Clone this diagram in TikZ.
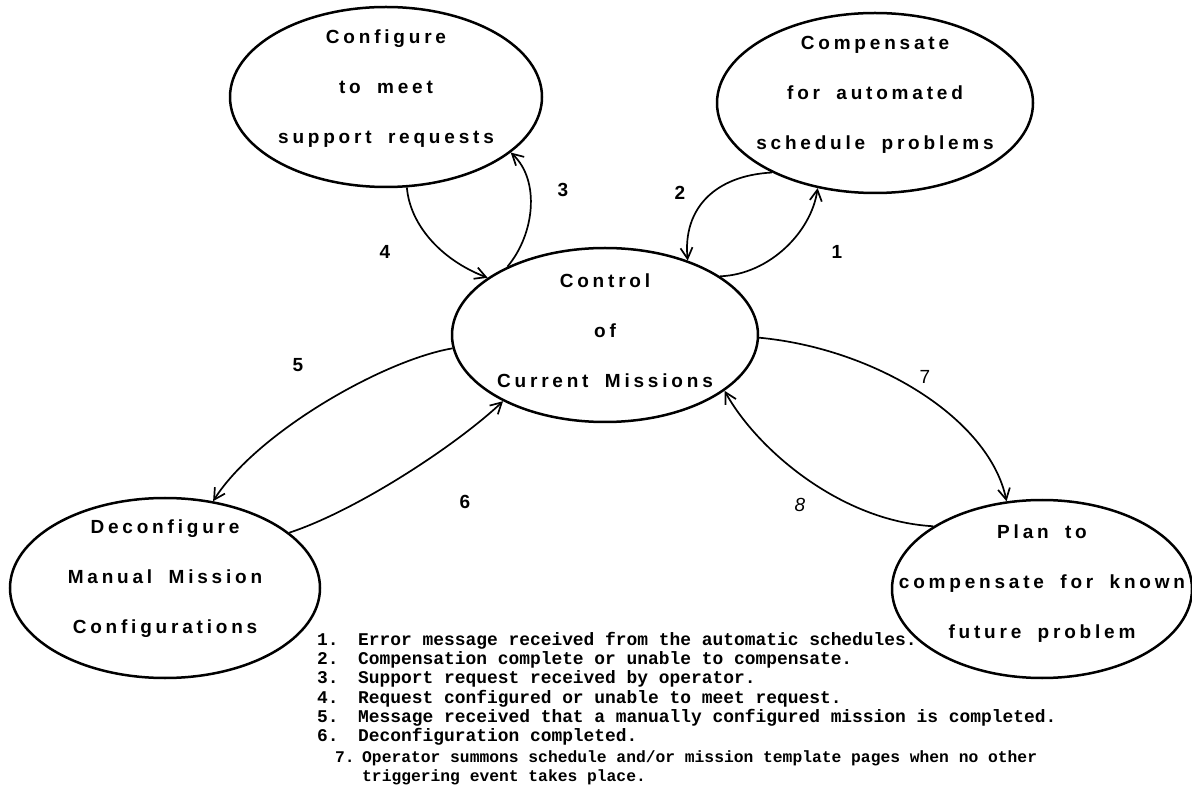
\documentclass[tikz,border=0pt]{standalone}
\usepackage{fontspec}
\setmainfont{Liberation Sans}
\newfontfamily\legfont{Liberation Mono}
\newfontfamily\ellfont[LetterSpace=20,WordSpace=1.8]{Liberation Sans}
\usetikzlibrary{shapes.geometric,arrows.meta}

\begin{document}
\begin{tikzpicture}[x=1pt,y=-1pt,
  ell/.style={draw, ellipse, line width=2.5pt, inner sep=0pt},
  etext/.style={align=center, inner sep=0pt, font=\ellfont\bfseries\fontsize{19}{50}\selectfont},
  conn/.style={line width=1.7pt, -{Straight Barb[length=11pt,width=12pt,line width=1.7pt]}},
  num/.style={inner sep=0pt, font=\bfseries\fontsize{19}{20}\selectfont},
  leg/.style={anchor=base west, inner sep=0pt, font=\legfont\bfseries\fontsize{17.9}{19}\selectfont},
  legs/.style={leg, font=\legfont\bfseries\fontsize{16.3}{19}\selectfont},
]
\useasboundingbox (0,0) rectangle (1192,799);

% ellipses
\node[ell, minimum width=312pt, minimum height=180pt] (conf) at (386,97) {};
\node[etext] (conft) at ([yshift=8pt]conf.center) {Configure\\to meet\\support requests};

\node[ell, minimum width=316pt, minimum height=180pt] (comp) at (875,103) {};
\node[etext] (compt) at ([yshift=8pt]comp.center) {Compensate\\for automated\\schedule problems};

\node[ell, minimum width=306pt, minimum height=174pt] (ctrl) at (605,335) {};
\node[etext] (ctrlt) at ([yshift=4pt]ctrl.center) {Control\\of\\Current Missions};

\node[ell, minimum width=310pt, minimum height=180pt] (dec) at (165,588) {};
\node[etext] (dect) at ([yshift=9pt]dec.center) {Deconfigure\\Manual Mission\\Configurations};

\node[ell, minimum width=300pt, minimum height=178pt] (plan) at (1042,589) {};
\node[etext] (plant) at ([yshift=5pt]plan.center) {Plan to\\compensate for known\\future problem};

% connectors
\draw[conn] (ctrl.145) .. controls +(27,-32) and +(30,28) .. (conf.-24);
\draw[conn] (conf.-77) .. controls +(3,37) and +(-47,-18) .. (ctrl.154);
\draw[conn] (comp.-146) .. controls +(-57,3) and +(-5,-52) .. (ctrl.42);
\draw[conn] (ctrl.27) .. controls +(50,-2) and +(-6,43) .. (comp.-124);
\draw[conn] (ctrl.185) .. controls +(-70,12) and +(43,-68) .. (dec.61);
\draw[conn] (dec.24) .. controls +(67,-22) and +(-48,45) .. (ctrl.-147);
\draw[conn] (ctrl.-1) .. controls +(117,11) and +(-17,-82) .. (plan.112);
\draw[conn] (plan.150) .. controls +(-93,-5) and +(32,58) .. (ctrl.-25);

% connector labels
\node[num] (n1) at (837,252) {1};
\node[num] (n2) at (680,193) {2};
\node[num] (n3) at (563,190) {3};
\node[num] (n4) at (385,252) {4};
\node[num] (n5) at (298,365) {5};
\node[num] (n6) at (465,502) {6};
\node[num, font=\fontsize{19}{20}\selectfont] (n7) at (925,377) {7};
\node[num, font=\itshape\fontsize{19}{20}\selectfont] (n8) at (800,505) {8};

% legend
\node[leg] (l1) at (317,645) {\makebox[41pt][l]{1.}Error message received from the automatic schedules.};
\node[leg] (l2) at (317,664) {\makebox[41pt][l]{2.}Compensation complete or unable to compensate.};
\node[leg] (l3) at (317,683) {\makebox[41pt][l]{3.}Support request received by operator.};
\node[leg] (l4) at (317,703) {\makebox[41pt][l]{4.}Request configured or unable to meet request.};
\node[leg] (l5) at (317,722) {\makebox[41pt][l]{5.}Message received that a manually configured mission is completed.};
\node[leg] (l6) at (317,741) {\makebox[41pt][l]{6.}Deconfiguration completed.};
\node[legs] (l7) at (335,762) {\makebox[27pt][l]{7.}Operator summons schedule and/or mission template pages when no other};
\node[legs] (l7b) at (362,781) {triggering event takes place.};
\end{tikzpicture}
\end{document}
